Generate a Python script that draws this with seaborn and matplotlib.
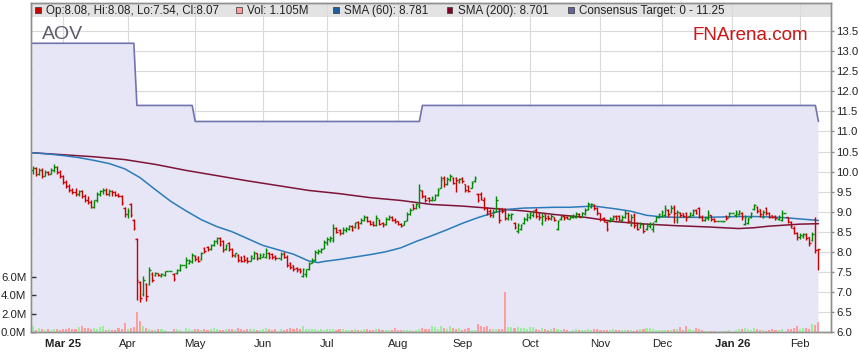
import numpy as np
import pandas as pd
import matplotlib
matplotlib.use("Agg")
import matplotlib.pyplot as plt
import seaborn as sns
from matplotlib.patches import Rectangle

# ---------------- data ----------------
ticker = "AOV"
start_date = "2025-02-17"

opens = [
    10.05, 10.10, 9.95, 10.05, 9.90, 10.00, 9.95, 10.05, 10.12, 10.00,
    9.90, 9.75, 9.65, 9.55, 9.50, 9.45, 9.52, 9.38, 9.30, 9.25,
    9.12, 9.28, 9.45, 9.52, 9.55, 9.45, 9.52, 9.48, 9.42, 9.40,
    9.10, 8.95, 9.20, 8.80, 8.32, 7.25, 6.95, 7.20, 7.20, 7.45,
    7.42, 7.48, 7.40, 7.42, 7.52, 7.52, 7.44, 7.46, 7.55, 7.68,
    7.62, 7.72, 7.74, 7.90, 7.88, 7.82, 8.10, 8.12, 8.06, 8.18,
    8.26, 8.34, 8.26, 8.06, 8.22, 8.08, 7.90, 7.93, 7.88, 7.90,
    7.84, 7.78, 7.84, 7.96, 7.84, 7.88, 7.86, 7.98, 7.94, 7.90,
    7.84, 7.82, 7.98, 7.88, 7.72, 7.66, 7.60, 7.56, 7.40, 7.44,
    7.58, 7.72, 7.80, 7.98, 8.02, 8.10, 8.22, 8.30, 8.30, 8.60,
    8.55, 8.48, 8.55, 8.58, 8.65, 8.62, 8.75, 8.72, 8.80, 8.88,
    8.78, 8.74, 8.68, 8.80, 8.72, 8.70, 8.82, 8.88, 8.80, 8.76,
    8.70, 8.68, 8.80, 8.95, 9.18, 9.10, 9.15, 9.52, 9.40, 9.34,
    9.30, 9.30, 9.42, 9.60, 9.85, 9.70, 9.80, 9.84, 9.84, 9.74,
    9.84, 9.68, 9.64, 9.60, 9.76, 9.45, 9.45, 9.30, 9.10, 9.02,
    8.88, 9.02, 9.08, 9.08, 9.06, 8.82, 8.86, 8.72, 8.52, 8.58,
    8.72, 8.82, 8.86, 8.92, 9.04, 8.98, 8.72, 8.94, 8.90, 8.82,
    8.86, 8.58, 8.82, 8.90, 8.88, 8.82, 8.86, 8.86, 8.94, 8.88,
    8.94, 9.06, 9.12, 9.16, 9.10, 8.96, 8.84, 8.74, 8.76, 8.82,
    8.90, 8.90, 8.80, 8.86, 8.96, 8.68, 8.92, 8.72, 8.62, 8.70,
    8.56, 8.64, 8.56, 8.76, 8.86, 8.90, 8.92, 9.05, 9.00, 9.12,
    8.80, 8.98, 8.96, 8.98, 8.90, 8.92, 9.04, 9.08, 8.88, 8.80,
    8.84, 8.92, 8.82, 8.76, 8.76, 8.76, 8.90, 8.88, 8.97, 8.92,
    8.95, 8.98, 8.70, 8.72, 8.86, 9.06, 9.12, 9.06, 8.88, 9.10,
    8.98, 8.92, 8.90, 8.82, 8.80, 8.98, 8.86, 8.74, 8.60, 8.48,
    8.36, 8.40, 8.44, 8.36, 8.30, 8.82, 8.08,
]
highs = [
    10.15, 10.12, 10.10, 10.08, 10.05, 10.02, 10.08, 10.18, 10.15, 10.05,
    9.92, 9.80, 9.70, 9.60, 9.58, 9.55, 9.55, 9.45, 9.40, 9.28,
    9.30, 9.50, 9.55, 9.60, 9.58, 9.56, 9.55, 9.52, 9.46, 9.42,
    9.12, 9.08, 9.22, 8.82, 8.35, 7.28, 7.40, 7.22, 7.62, 7.50,
    7.50, 7.48, 7.46, 7.52, 7.52, 7.52, 7.46, 7.57, 7.70, 7.68,
    7.86, 7.82, 7.97, 7.92, 7.90, 8.00, 8.12, 8.15, 8.20, 8.30,
    8.38, 8.37, 8.30, 8.20, 8.25, 8.09, 7.98, 7.94, 7.90, 7.92,
    7.86, 7.93, 8.01, 7.98, 7.96, 7.97, 8.09, 8.00, 7.96, 7.92,
    7.84, 8.00, 8.00, 7.92, 7.75, 7.68, 7.62, 7.60, 7.60, 7.58,
    7.75, 7.84, 8.05, 8.06, 8.10, 8.30, 8.37, 8.40, 8.70, 8.62,
    8.58, 8.62, 8.62, 8.68, 8.68, 8.75, 8.78, 8.84, 8.92, 8.90,
    8.80, 8.76, 8.92, 8.82, 8.74, 8.88, 8.92, 8.90, 8.84, 8.78,
    8.72, 8.78, 9.00, 9.10, 9.20, 9.22, 9.68, 9.55, 9.42, 9.37,
    9.38, 9.45, 9.60, 9.90, 9.88, 9.86, 9.95, 9.86, 9.86, 9.85,
    9.86, 9.70, 9.66, 9.76, 9.88, 9.47, 9.50, 9.37, 9.12, 9.06,
    9.06, 9.40, 9.10, 9.10, 9.10, 8.96, 8.98, 8.74, 8.72, 8.70,
    8.87, 8.98, 9.00, 9.05, 9.08, 8.98, 8.96, 8.94, 8.92, 8.94,
    8.88, 8.80, 8.92, 8.92, 8.90, 8.92, 8.94, 9.00, 8.96, 9.00,
    9.08, 9.24, 9.22, 9.18, 9.12, 8.96, 8.86, 8.76, 8.88, 8.92,
    8.92, 8.92, 8.92, 9.04, 8.99, 8.95, 8.97, 8.74, 8.74, 8.72,
    8.72, 8.74, 8.74, 8.90, 8.98, 9.05, 9.17, 9.07, 9.17, 9.17,
    9.05, 9.00, 8.98, 9.00, 9.00, 9.07, 9.07, 9.12, 8.92, 8.88,
    9.05, 8.92, 8.84, 8.76, 8.76, 8.78, 8.92, 9.00, 8.97, 9.04,
    9.04, 9.00, 8.92, 8.88, 9.00, 9.20, 9.14, 9.07, 9.04, 9.12,
    9.00, 8.92, 8.92, 8.92, 9.04, 8.98, 8.88, 8.78, 8.64, 8.50,
    8.46, 8.47, 8.46, 8.38, 8.49, 8.86, 8.08,
]
lows = [
    9.95, 9.90, 9.92, 9.85, 9.88, 9.92, 9.93, 10.00, 9.95, 9.85,
    9.70, 9.60, 9.50, 9.45, 9.40, 9.40, 9.35, 9.25, 9.20, 9.08,
    9.10, 9.25, 9.40, 9.45, 9.42, 9.40, 9.40, 9.38, 9.36, 9.17,
    8.88, 8.85, 8.87, 8.55, 6.80, 6.75, 6.90, 6.78, 7.17, 7.25,
    7.40, 7.40, 7.38, 7.40, 7.52, 7.52, 7.28, 7.44, 7.52, 7.68,
    7.60, 7.70, 7.72, 7.78, 7.74, 7.80, 7.98, 8.02, 8.04, 8.14,
    8.20, 8.14, 8.00, 8.04, 8.02, 7.88, 7.88, 7.74, 7.74, 7.74,
    7.73, 7.77, 7.81, 7.80, 7.82, 7.86, 7.85, 7.82, 7.82, 7.80,
    7.84, 7.80, 7.84, 7.62, 7.56, 7.52, 7.50, 7.48, 7.37, 7.38,
    7.55, 7.72, 7.78, 7.95, 7.98, 8.08, 8.18, 8.25, 8.25, 8.46,
    8.42, 8.45, 8.50, 8.54, 8.52, 8.60, 8.58, 8.70, 8.78, 8.74,
    8.66, 8.64, 8.64, 8.66, 8.62, 8.68, 8.80, 8.76, 8.72, 8.68,
    8.62, 8.66, 8.78, 8.92, 9.05, 9.06, 9.10, 9.34, 9.24, 9.24,
    9.26, 9.28, 9.40, 9.58, 9.62, 9.66, 9.76, 9.68, 9.50, 9.72,
    9.72, 9.50, 9.48, 9.58, 9.74, 9.24, 9.28, 9.04, 8.92, 8.86,
    8.86, 9.00, 8.72, 8.98, 8.80, 8.80, 8.80, 8.58, 8.48, 8.55,
    8.70, 8.78, 8.82, 8.88, 8.84, 8.80, 8.67, 8.78, 8.80, 8.80,
    8.76, 8.55, 8.80, 8.80, 8.82, 8.82, 8.84, 8.84, 8.86, 8.86,
    8.92, 9.04, 9.10, 9.04, 8.92, 8.78, 8.74, 8.52, 8.74, 8.80,
    8.80, 8.76, 8.78, 8.84, 8.72, 8.65, 8.60, 8.54, 8.60, 8.47,
    8.55, 8.60, 8.50, 8.74, 8.84, 8.88, 8.87, 8.88, 8.97, 8.72,
    8.72, 8.88, 8.88, 8.76, 8.88, 8.90, 8.94, 8.84, 8.76, 8.76,
    8.80, 8.76, 8.74, 8.76, 8.76, 8.74, 8.80, 8.86, 8.97, 8.88,
    8.92, 8.80, 8.67, 8.70, 8.84, 9.04, 8.98, 8.88, 8.84, 8.92,
    8.84, 8.84, 8.80, 8.80, 8.76, 8.98, 8.72, 8.60, 8.44, 8.30,
    8.32, 8.34, 8.30, 8.15, 8.28, 7.98, 7.54,
]
closes = [
    10.10, 9.95, 10.05, 9.90, 10.00, 9.95, 10.05, 10.12, 10.00, 9.90,
    9.75, 9.65, 9.55, 9.50, 9.45, 9.52, 9.38, 9.30, 9.25, 9.12,
    9.28, 9.45, 9.52, 9.55, 9.45, 9.52, 9.48, 9.42, 9.40, 9.22,
    8.95, 9.02, 8.92, 8.60, 7.30, 6.85, 7.30, 6.90, 7.55, 7.30,
    7.48, 7.42, 7.44, 7.52, 7.52, 7.52, 7.32, 7.54, 7.68, 7.68,
    7.80, 7.78, 7.92, 7.82, 7.78, 7.96, 8.02, 8.06, 8.16, 8.26,
    8.34, 8.20, 8.05, 8.16, 8.06, 7.92, 7.96, 7.80, 7.78, 7.80,
    7.76, 7.90, 7.96, 7.84, 7.92, 7.94, 8.04, 7.86, 7.86, 7.84,
    7.84, 7.94, 7.88, 7.68, 7.62, 7.58, 7.54, 7.52, 7.58, 7.56,
    7.70, 7.80, 8.00, 8.02, 8.08, 8.25, 8.32, 8.35, 8.60, 8.50,
    8.48, 8.58, 8.60, 8.64, 8.55, 8.72, 8.62, 8.80, 8.88, 8.78,
    8.70, 8.68, 8.85, 8.70, 8.66, 8.82, 8.88, 8.80, 8.75, 8.70,
    8.65, 8.76, 8.95, 9.05, 9.10, 9.18, 9.55, 9.40, 9.28, 9.30,
    9.34, 9.42, 9.55, 9.80, 9.70, 9.82, 9.90, 9.72, 9.78, 9.82,
    9.76, 9.55, 9.52, 9.72, 9.84, 9.30, 9.32, 9.10, 8.96, 8.92,
    9.00, 9.30, 8.80, 9.02, 8.84, 8.92, 8.94, 8.62, 8.66, 8.66,
    8.82, 8.92, 8.96, 9.00, 8.90, 8.86, 8.90, 8.84, 8.84, 8.90,
    8.80, 8.76, 8.88, 8.84, 8.84, 8.88, 8.90, 8.96, 8.88, 8.96,
    9.04, 9.18, 9.20, 9.08, 8.98, 8.82, 8.78, 8.58, 8.84, 8.88,
    8.84, 8.80, 8.88, 8.98, 8.78, 8.88, 8.66, 8.58, 8.70, 8.52,
    8.68, 8.70, 8.70, 8.86, 8.94, 9.00, 9.08, 8.95, 9.10, 8.98,
    9.00, 8.92, 8.90, 8.88, 8.96, 9.02, 8.98, 8.90, 8.80, 8.86,
    8.98, 8.82, 8.76, 8.76, 8.76, 8.76, 8.84, 8.97, 8.97, 9.00,
    9.02, 8.86, 8.88, 8.82, 8.96, 9.16, 9.02, 8.94, 9.00, 8.98,
    8.88, 8.86, 8.84, 8.88, 8.98, 8.98, 8.76, 8.64, 8.48, 8.36,
    8.42, 8.44, 8.34, 8.22, 8.45, 8.05, 8.07,
]
volumes_m = [
    0.60, 0.25, 0.40, 0.35, 0.20, 0.30, 0.25, 0.30, 0.28, 0.22,
    0.30, 0.35, 0.45, 0.30, 0.38, 0.50, 0.60, 0.45, 0.40, 0.30,
    0.42, 0.30, 0.55, 0.60, 0.22, 0.30, 0.20, 0.25, 0.40, 0.35,
    1.00, 0.30, 0.45, 0.55, 2.20, 1.20, 0.65, 0.45, 0.30, 0.25,
    0.20, 0.35, 0.30, 0.25, 0.00, 0.00, 0.35, 0.30, 0.25, 0.00,
    0.40, 0.30, 0.22, 0.28, 0.35, 0.20, 0.30, 0.25, 0.35, 0.40,
    0.30, 0.25, 0.22, 0.30, 0.28, 0.35, 0.25, 0.40, 0.30, 0.22,
    0.35, 0.28, 0.30, 0.20, 0.25, 0.30, 0.40, 0.35, 0.25, 0.30,
    0.00, 0.30, 0.25, 0.35, 0.40, 0.30, 0.45, 0.35, 0.60, 0.30,
    0.35, 0.28, 0.32, 0.25, 0.30, 0.22, 0.28, 0.30, 0.35, 0.25,
    0.30, 0.28, 0.22, 0.20, 0.25, 0.30, 0.20, 0.22, 0.28, 0.30,
    0.25, 0.20, 0.35, 0.30, 0.22, 0.20, 0.18, 0.25, 0.45, 0.22,
    0.20, 0.18, 0.25, 0.22, 0.15, 0.18, 0.30, 0.45, 0.30, 0.35,
    0.70, 0.50, 0.35, 0.60, 0.40, 0.35, 0.70, 0.40, 0.30, 0.40,
    0.25, 0.30, 0.40, 0.25, 0.25, 0.85, 0.60, 0.55, 0.65, 0.30,
    0.30, 0.35, 0.30, 0.35, 4.40, 0.55, 0.55, 0.40, 0.50, 0.45,
    0.40, 0.30, 0.55, 0.50, 0.35, 0.25, 0.45, 0.30, 0.20, 0.30,
    0.40, 0.30, 0.25, 0.30, 0.20, 0.15, 0.20, 0.35, 0.25, 0.20,
    0.25, 0.30, 0.25, 0.30, 0.35, 0.25, 0.20, 0.20, 0.25, 0.28,
    0.25, 0.22, 0.20, 0.25, 0.20, 0.18, 0.15, 0.25, 0.30, 0.28,
    0.45, 0.40, 0.30, 0.25, 0.20, 0.22, 0.25, 0.20, 0.25, 0.30,
    0.35, 0.55, 0.25, 0.60, 0.30, 0.25, 0.40, 0.30, 0.20, 0.15,
    0.10, 0.12, 0.15, 0.00, 0.00, 0.10, 0.15, 0.20, 0.00, 0.25,
    0.30, 0.35, 0.45, 0.30, 0.20, 0.45, 0.30, 0.25, 0.20, 0.15,
    0.25, 0.30, 0.20, 0.25, 0.30, 0.00, 0.35, 0.30, 0.40, 0.60,
    0.30, 0.45, 0.40, 0.30, 0.85, 0.80, 1.105,
]

# consensus target (step changes)
target_change_dates = ["2025-02-17", "2025-04-04", "2025-05-01", "2025-08-13", "2026-02-10"]
target_values = [13.20, 11.65, 11.25, 11.65, 11.25]

# moving averages, read at sampled bars
sma60_bars = [0, 5, 10, 15, 20, 25, 30, 35, 40, 45, 50, 55, 60, 65, 70, 75, 80, 85, 90, 93,
              95, 100, 105, 110, 115, 120, 125, 130, 135, 140, 145, 150, 155, 160, 165, 170,
              175, 180, 183, 185, 190, 195, 200, 205, 210, 215, 220, 225, 230, 235, 240, 245,
              250, 256]
sma60_vals = [10.47, 10.44, 10.40, 10.35, 10.28, 10.20, 10.07, 9.85, 9.55, 9.26, 9.02, 8.80,
              8.63, 8.50, 8.33, 8.16, 8.05, 7.94, 7.77, 7.73, 7.76, 7.81, 7.87, 7.93, 8.00,
              8.10, 8.26, 8.40, 8.55, 8.71, 8.85, 8.97, 9.06, 9.09, 9.10, 9.11, 9.11, 9.13,
              9.14, 9.12, 9.07, 9.01, 8.91, 8.87, 8.86, 8.86, 8.86, 8.87, 8.88, 8.88, 8.87,
              8.85, 8.82, 8.781]
sma200_bars = [0, 10, 20, 30, 40, 50, 60, 70, 80, 90, 100, 110, 120, 130, 140, 150, 160, 170,
               180, 190, 200, 210, 220, 230, 235, 240, 250, 256]
sma200_vals = [10.47, 10.42, 10.37, 10.30, 10.18, 10.03, 9.90, 9.77, 9.65, 9.53, 9.45, 9.35,
               9.28, 9.18, 9.14, 9.08, 9.02, 8.93, 8.86, 8.75, 8.69, 8.65, 8.62, 8.58, 8.60,
               8.64, 8.69, 8.701]

month_labels = ["Mar 25", "Apr", "May", "Jun", "Jul", "Aug", "Sep", "Oct", "Nov", "Dec",
                "Jan 26", "Feb"]
bold_labels = ["Mar 25", "Jan 26"]
volume_ticks_m = [0, 2, 4, 6]
price_tick_min, price_tick_max, price_tick_step = 6.0, 13.5, 0.5

# ---------------- build frame ----------------
n = len(closes)
dates = pd.bdate_range(start_date, periods=n)
df = pd.DataFrame({"date": dates, "x": np.arange(n), "open": opens, "high": highs,
                   "low": lows, "close": closes, "vol": volumes_m})
df["up"] = df["close"] >= df["open"]
chg = pd.to_datetime(target_change_dates).values
pos = np.searchsorted(chg, dates.values, side="right") - 1
df["target"] = np.array(target_values)[pos]

month_starts = pd.date_range("2025-03-01", periods=len(month_labels), freq="MS")
tick_pos = [int(np.searchsorted(dates.values, m.to_datetime64())) for m in month_starts]

# ---------------- style ----------------
sns.set_theme(style="white")
plt.rcParams["font.family"] = ["Liberation Sans", "DejaVu Sans"]

W, H = 859, 363
L, R, T, B = 31, 831, 3, 332
PX_PER_BAR = 3.07
PX_PER_PRICE = 40.1
PX_PER_MVOL = 9.17
SPINE = "#8E8E8E"
RED, GREEN = "#CC0000", "#008A00"
VRED, VGREEN = "#FF9C9C", "#9CEE9C"
C_SMA60, C_SMA200, C_TGT = "#2B7BBA", "#7E1437", "#7373AD"

fig = plt.figure(figsize=(W / 100, H / 100), dpi=100)
fig.patch.set_facecolor("white")
ax = fig.add_axes([L / W, (H - B) / H, (R - L) / W, (B - T) / H])
ax.set_facecolor("white")
ax.set_xlim(-0.5, -0.5 + (R - L) / PX_PER_BAR)
ax.set_ylim(6.0, 6.0 + (B - T) / PX_PER_PRICE)

# legend band at the top of the plot frame
band_h = 14 / (B - T)
ax.add_patch(Rectangle((0, 1 - band_h), 1, band_h, transform=ax.transAxes,
                       facecolor="#E3E3E3", edgecolor="none", zorder=0.3))

# grid
ax.set_xticks(tick_pos)
ax.set_yticks(np.arange(price_tick_min, price_tick_max + 1e-6, price_tick_step))
ax.set_axisbelow(True)
ax.grid(True, color="#DADADA", linewidth=0.8)

# consensus target area + line
ax.fill_between(df["x"], 0, df["target"], color="#E6E6F6", linewidth=0, zorder=1)
sns.lineplot(data=df, x="x", y="target", color=C_TGT, linewidth=1.2, ax=ax, zorder=3,
             legend=False)

# moving averages
sns.lineplot(x=sma200_bars, y=sma200_vals, color=C_SMA200, linewidth=1.1, ax=ax, zorder=4,
             legend=False)
sns.lineplot(x=sma60_bars, y=sma60_vals, color=C_SMA60, linewidth=1.1, ax=ax, zorder=4,
             legend=False)

# OHLC bars
bar_cols = np.where(df["up"], GREEN, RED)
ax.vlines(df["x"], df["low"], df["high"], colors=bar_cols, linewidth=1.0, zorder=5)
ax.hlines(df["open"], df["x"] - 0.5, df["x"], colors=bar_cols, linewidth=1.0, zorder=5)
ax.hlines(df["close"], df["x"], df["x"] + 0.5, colors=bar_cols, linewidth=1.0, zorder=5)

# volume on twin axis (left)
axv = ax.twinx()
axv.set_ylim(0, (B - T) / PX_PER_MVOL)
vol_cols = np.where(df["up"], VGREEN, VRED)
axv.bar(df["x"], df["vol"], width=0.68, color=vol_cols, linewidth=0, zorder=2)
axv.yaxis.tick_left()
ax.yaxis.tick_right()
axv.set_yticks(volume_ticks_m)
axv.set_yticklabels([f"{v:.1f}M" for v in volume_ticks_m])
ax.set_yticklabels([f"{v:.1f}" for v in ax.get_yticks()])

ax.set_xticklabels(month_labels)
for lab in ax.get_xticklabels():
    if lab.get_text() in bold_labels:
        lab.set_fontweight("bold")

for a in (ax, axv):
    a.set_xlabel("")
    a.set_ylabel("")
    for s in a.spines.values():
        s.set_color(SPINE)
        s.set_linewidth(1.0)

ax.tick_params(axis="x", direction="out", length=2.5, width=1, color=SPINE,
               labelsize=8.2, labelcolor="#222222", pad=2.5)
ax.tick_params(axis="y", direction="out", length=2.5, width=1, color=SPINE,
               labelsize=8.2, labelcolor="#222222", pad=1.5, right=True, left=False)
axv.tick_params(axis="y", direction="in", length=3.5, width=1, color="#333333",
                labelsize=8.2, labelcolor="#222222", pad=3.5, left=True, right=False)

# titles / watermark
def fx(px):
    return px / W

def fy(py):
    return 1 - py / H

fig.text(fx(42), fy(39), ticker, fontsize=14, color="#5C5C6C", ha="left", va="baseline")
fig.text(fx(693), fy(40), "FNArena.com", fontsize=13.5, color="#CC1515", ha="left",
         va="baseline")

# legend entries
legend_items = [
    (RED, f"Op:{opens[-1]:.2f}, Hi:{highs[-1]:.2f}, Lo:{lows[-1]:.2f}, Cl:{closes[-1]:.2f}", 35),
    (VRED, f"Vol: {volumes_m[-1]:.3f}M", 236),
    ("#1F5F9F", f"SMA (60): {sma60_vals[-1]:.3f}", 333),
    ("#800026", f"SMA (200): {sma200_vals[-1]:.3f}", 447),
    ("#64649A", f"Consensus Target: 0 - {target_values[-1]:.2f}", 568),
]
for col, txt, px in legend_items:
    fig.add_artist(Rectangle((fx(px), fy(12.5)), 5.5 / W, 5.5 / H, transform=fig.transFigure,
                             facecolor=col, edgecolor="#333333", linewidth=0.5))
    fig.text(fx(px + 11), fy(14), txt, fontsize=8.4, color="#222222", ha="left",
             va="baseline")

fig.savefig("out.png", dpi=100, facecolor="white")
